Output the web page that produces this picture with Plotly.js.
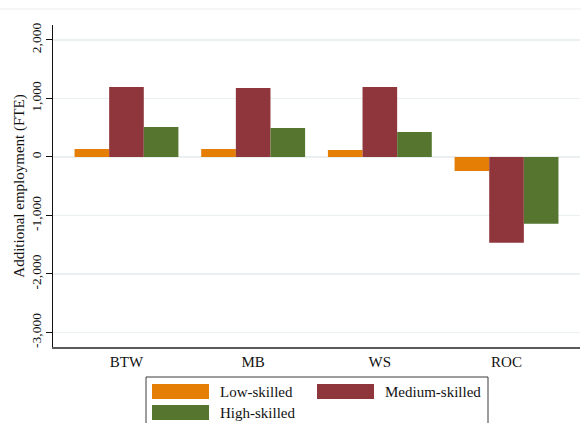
<!DOCTYPE html>
<html>
<head>
<meta charset="utf-8">
<script src="https://cdn.plot.ly/plotly-3.0.1.min.js"></script>
<style>
  html, body { margin: 0; padding: 0; background: #ffffff; }
  #chart { width: 581px; height: 423px; }
</style>
</head>
<body>
<div id="chart"></div>
<script>
// ---- Data ----
var categories = ['BTW', 'MB', 'WS', 'ROC'];
var seriesNames = ['Low-skilled', 'Medium-skilled', 'High-skilled'];
var lowSkilled = [137, 137, 120, -240];
var mediumSkilled = [1197, 1180, 1197, -1465];
var highSkilled = [513, 496, 427, -1140];
var yTickVals = [-3000, -2000, -1000, 0, 1000, 2000];
var yTickText = ['-3,000', '-2,000', '-1,000', '0', '1,000', '2,000'];

// ---- Styles ----
var colors = ['#E47E04', '#8F353C', '#56752F'];
var fontFamily = 'Liberation Serif, Times New Roman, serif';

// Plot area in pixels (for the hand-drawn legend box)
var plotL = 53, plotR = 580, plotT = 25, plotB = 347;
function px(x) { return (x - plotL) / (plotR - plotL); }
function py(y) { return (plotB - y) / (plotB - plotT); }

var seriesValues = [lowSkilled, mediumSkilled, highSkilled];
var traces = seriesValues.map(function (vals, i) {
  return {
    type: 'bar',
    name: seriesNames[i],
    x: categories,
    y: vals,
    marker: { color: colors[i], line: { width: 0 } },
    showlegend: false,
    hoverinfo: 'x+y+name'
  };
});

// Custom legend (large swatches like the reference)
var legendItems = [
  { sx0: 152, sx1: 209, sy0: 384, sy1: 399, tx: 218, ty: 392 },
  { sx0: 317, sx1: 374, sy0: 384, sy1: 399, tx: 383, ty: 392 },
  { sx0: 152, sx1: 209, sy0: 405, sy1: 420, tx: 218, ty: 413 }
];

var shapes = [
  { type: 'line', xref: 'paper', yref: 'paper', x0: px(0), x1: px(581), y0: py(9), y1: py(9),
    line: { color: '#ededed', width: 1 } },
  { type: 'rect', xref: 'paper', yref: 'paper', x0: px(146), x1: px(488), y0: py(377), y1: py(440),
    line: { color: '#3a3a3a', width: 1 }, fillcolor: 'rgba(0,0,0,0)' }
];
var annotations = [];
legendItems.forEach(function (it, i) {
  shapes.push({ type: 'rect', xref: 'paper', yref: 'paper',
    x0: px(it.sx0), x1: px(it.sx1), y0: py(it.sy1), y1: py(it.sy0),
    line: { width: 0 }, fillcolor: colors[i] });
  annotations.push({ xref: 'paper', yref: 'paper', x: px(it.tx), y: py(it.ty),
    xanchor: 'left', yanchor: 'middle', showarrow: false, text: seriesNames[i],
    font: { family: fontFamily, size: 15, color: '#111111' } });
});

var layout = {
  width: 581,
  height: 423,
  margin: { l: plotL, r: 581 - plotR, t: plotT, b: 423 - plotB, pad: 0 },
  paper_bgcolor: '#ffffff',
  plot_bgcolor: '#ffffff',
  font: { family: fontFamily, color: '#111111' },
  barmode: 'group',
  bargap: 0.18,
  bargroupgap: 0,
  showlegend: false,
  xaxis: {
    type: 'category',
    range: [-0.58, 3.58],
    showline: true,
    linecolor: '#5a5a5a',
    linewidth: 1.5,
    showgrid: false,
    zeroline: false,
    ticks: '',
    tickfont: { family: fontFamily, size: 15, color: '#111111' },
    fixedrange: true
  },
  yaxis: {
    range: [-3248, 2256],
    tickvals: yTickVals,
    ticktext: yTickText,
    tickangle: -90,
    ticks: 'outside',
    ticklen: 6,
    tickwidth: 1,
    tickcolor: '#111111',
    tickfont: { family: fontFamily, size: 13.5, color: '#111111' },
    showline: true,
    linecolor: '#111111',
    linewidth: 1,
    showgrid: true,
    gridcolor: '#eaf0f1',
    gridwidth: 1.5,
    zeroline: true,
    zerolinecolor: '#eaf0f1',
    zerolinewidth: 1.5,
    title: { text: 'Additional employment (FTE)', font: { family: fontFamily, size: 15, color: '#111111' }, standoff: 0 },
    fixedrange: true
  },
  shapes: shapes,
  annotations: annotations
};

Plotly.newPlot('chart', traces, layout, { displayModeBar: false, staticPlot: true });
</script>
</body>
</html>
